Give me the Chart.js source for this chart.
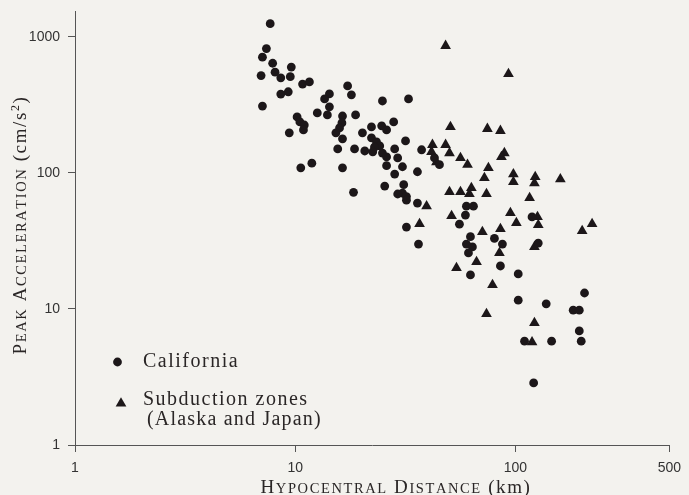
<!DOCTYPE html>
<html>
<head>
<meta charset="utf-8">
<script src="https://cdn.jsdelivr.net/npm/chart.js"></script>
<style>
  html, body { margin: 0; padding: 0; background: #f3f2ee; }
  canvas { display: block; }
</style>
</head>
<body>
<canvas id="chart" width="689" height="495"></canvas>
<script>
// hypocentral distance (km) / peak acceleration (cm/s2)
var californiaDist = [7.7, 7.4, 7.1, 7.9, 8.1, 7.0, 8.6, 9.6, 9.5, 8.6,
  9.3, 7.1, 9.4, 10.2, 10.5, 11.0, 10.9, 10.8, 11.6, 17.3,
  18.0, 14.3, 13.6, 24.9, 32.7, 14.3, 14.0, 12.6, 18.8, 16.4,
  16.3, 15.9, 15.3, 28.0, 22.2, 24.7, 26.0, 20.2, 22.2, 23.4,
  24.2, 22.9, 16.4, 31.7, 15.6, 18.6, 20.7, 22.5, 24.9, 26.0,
  28.3, 29.2, 37.5, 42.9, 45.2, 10.6, 11.9, 16.4, 26.0, 30.7,
  28.3, 35.9, 25.5, 31.1, 30.7, 32.0, 18.4, 29.2, 35.9, 32.0,
  59.9, 64.5, 59.3, 32.0, 36.3, 55.7, 62.5, 59.9, 63.8, 61.2,
  62.5, 80.3, 87.3, 85.5, 119, 127, 103, 103, 138, 110,
  146, 206, 183, 195, 195, 199, 121];
var californiaAccel = [1250, 820, 710, 640, 550, 520, 500, 600, 510, 380,
  395, 310, 197, 258, 237, 225, 207, 450, 467, 436,
  375, 381, 350, 338, 350, 306, 267, 276, 267, 262,
  233, 214, 197, 237, 218, 222, 207, 197, 181, 169,
  158, 155, 178, 172, 150, 150, 145, 143, 140, 131,
  150, 129, 148, 129, 115, 109, 118, 109, 113, 111,
  98, 102, 80, 82, 71, 67, 72, 70, 60, 63,
  57, 57, 49, 40, 30, 42, 34, 30, 28.6, 25.8,
  17.8, 33, 30, 20.7, 47.5, 30.5, 18.1, 11.6, 10.9, 5.8,
  5.8, 13.1, 9.8, 9.8, 6.9, 5.8, 2.86];

var subductionDist = [48.2, 93, 50.7, 74.6, 85.5, 89.1, 86.4, 42.0, 48.2, 41.6,
  50.2, 43.8, 56.3, 60.6, 75.4, 72.3, 97.9, 97.9, 123, 122,
  160, 50.2, 56.3, 63.1, 61.8, 73.9, 116, 39.5, 51.3, 94.9,
  36.7, 70.8, 85.5, 101, 126, 127, 122, 84.6, 66.6, 54,
  78.7, 73.9, 122, 119, 201, 223];
var subductionAccel = [860, 535, 218, 211, 204, 140, 131, 161, 161, 143,
  140, 120, 129, 115, 109, 92, 98, 86, 93.5, 84,
  90, 72.5, 72.5, 77.6, 70, 70, 65.5, 57, 48.3, 50.8,
  42.2, 36.8, 38.7, 42.9, 47.5, 41.5, 28.6, 25.8, 22.2, 20,
  15, 9.2, 7.9, 5.7, 37.5, 42.2];

var xTicks = [1, 10, 100, 500];
var yTicks = [1, 10, 100, 1000];

var xTitle = "Hypocentral Distance";
var xUnit = " (km)";
var yTitle = "Peak Acceleration";
var yUnit = " (cm/s";
var legendLabels = ["California", "Subduction zones", "(Alaska and Japan)"];

var ink = '#1c1719';
var axisColor = '#555';
var serif = '"Liberation Serif", "Times New Roman", serif';
var sans = '"Liberation Sans", Arial, sans-serif';

function pairs(xs, ys) {
  return xs.map(function (x, i) { return { x: x, y: ys[i] }; });
}

// draws text char by char; runs = [{text, size, caps, dy}]
function drawRuns(ctx, runs, x, y, spacing, measureOnly) {
  var start = x;
  runs.forEach(function (r) {
    for (var i = 0; i < r.text.length; i++) {
      var ch = r.text[i];
      var size = r.size;
      if (r.caps && ch !== ch.toUpperCase()) {
        ch = ch.toUpperCase();
        size = r.small;
      }
      ctx.font = size + 'px ' + serif;
      if (!measureOnly) ctx.fillText(ch, x, y + (r.dy || 0));
      x += ctx.measureText(ch).width + spacing;
    }
  });
  return x - start;
}

var annotations = {
  id: 'annotations',
  afterDraw: function (chart) {
    var ctx = chart.ctx;
    ctx.save();
    ctx.fillStyle = '#2a2626';
    ctx.textAlign = 'left';
    ctx.textBaseline = 'alphabetic';

    var xRuns = [
      { text: xTitle, size: 19, small: 14.5, caps: true },
      { text: xUnit, size: 19 }
    ];
    var w = drawRuns(ctx, xRuns, 0, 0, 1.6, true);
    drawRuns(ctx, xRuns, 396 - w / 2, 493, 1.6);

    var yRuns = [
      { text: yTitle, size: 19, small: 14.5, caps: true },
      { text: yUnit, size: 19 },
      { text: '2', size: 12, dy: -7 },
      { text: ')', size: 19 }
    ];
    var wy = drawRuns(ctx, yRuns, 0, 0, 1.6, true);
    ctx.save();
    ctx.translate(26, 225);
    ctx.rotate(-Math.PI / 2);
    drawRuns(ctx, yRuns, -wy / 2, 0, 1.6);
    ctx.restore();

    // legend
    ctx.fillStyle = ink;
    ctx.beginPath();
    ctx.arc(117.5, 362, 4.4, 0, Math.PI * 2);
    ctx.fill();
    var r = 6.2, tx = 121, ty = 403.5;
    ctx.beginPath();
    ctx.moveTo(tx, ty - r);
    ctx.lineTo(tx + r * Math.sin(2 * Math.PI / 3), ty - r * Math.cos(2 * Math.PI / 3));
    ctx.lineTo(tx + r * Math.sin(4 * Math.PI / 3), ty - r * Math.cos(4 * Math.PI / 3));
    ctx.closePath();
    ctx.fill();

    ctx.fillStyle = '#2a2626';
    drawRuns(ctx, [{ text: legendLabels[0], size: 20 }], 143, 367, 1.5);
    drawRuns(ctx, [{ text: legendLabels[1], size: 20 }], 143, 405, 1.5);
    drawRuns(ctx, [{ text: legendLabels[2], size: 20 }], 147, 425, 1.2);
    ctx.restore();
  }
};

function axisOpts(min, max, ticks, fit, lineHeight) {
  return {
    type: 'logarithmic',
    min: min,
    max: max,
    afterBuildTicks: function (scale) {
      scale.ticks = ticks.map(function (v) { return { value: v }; });
    },
    afterFit: fit,
    ticks: {
      autoSkip: false,
      maxRotation: 0,
      padding: 8,
      color: '#333',
      font: { family: sans, size: 14, lineHeight: lineHeight },
      callback: function (v) { return String(v); }
    },
    grid: { drawOnChartArea: false, drawTicks: true, tickLength: 7, color: axisColor, lineWidth: 1 },
    border: { display: true, color: axisColor, width: 1 }
  };
}

new Chart(document.getElementById('chart'), {
  type: 'scatter',
  data: {
    datasets: [
      {
        label: 'California',
        data: pairs(californiaDist, californiaAccel),
        pointStyle: 'circle',
        pointRadius: 4.4,
        borderWidth: 0,
        backgroundColor: ink
      },
      {
        label: 'Subduction zones (Alaska and Japan)',
        data: pairs(subductionDist, subductionAccel),
        pointStyle: 'triangle',
        pointRadius: 6.2,
        borderWidth: 0,
        backgroundColor: ink
      }
    ]
  },
  options: {
    responsive: false,
    animation: false,
    devicePixelRatio: 1,
    layout: { padding: { top: 11, right: 18, left: 0, bottom: 0 } },
    plugins: {
      legend: { display: false },
      tooltip: { enabled: false }
    },
    scales: {
      x: axisOpts(1, 500, xTicks, function (s) { s.height = 50; }, 1.2),
      y: axisOpts(1, 1550, yTicks, function (s) { s.width = 75; }, 0.4)
    }
  },
  plugins: [annotations]
});
</script>
</body>
</html>
